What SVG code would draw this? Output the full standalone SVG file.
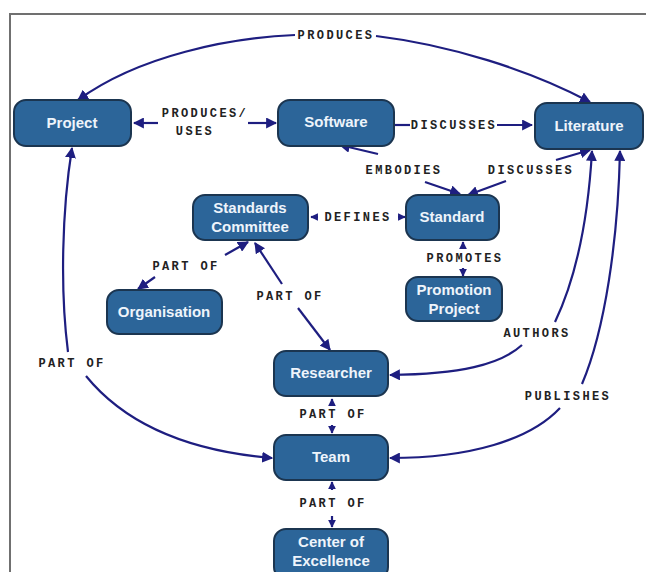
<svg xmlns="http://www.w3.org/2000/svg" width="646" height="572" viewBox="0 0 646 572">
  <defs>
    <style>
      .node rect { fill: #2c6599; stroke: #1b3550; stroke-width: 2; }
      .node text { fill: #eef4fb; font-family: "Liberation Sans", Arial, sans-serif; font-weight: bold; font-size: 15px; text-anchor: middle; }
      .edge { fill: none; stroke: #1e1e80; stroke-width: 2.2; }
      .lbl { fill: #222; font-family: "Liberation Mono", "Courier New", monospace; font-weight: bold; font-size: 12px; letter-spacing: 2.4px; text-anchor: middle; }
    </style>
    <marker id="arr" viewBox="0 0 10 10" refX="9" refY="5" markerWidth="5" markerHeight="5" orient="auto-start-reverse" markerUnits="strokeWidth">
      <path d="M0,0 L10,5 L0,10 z" fill="#1e1e80"/>
    </marker>
    <marker id="sm" viewBox="0 0 10 10" refX="9" refY="5" markerWidth="3.5" markerHeight="3.5" orient="auto-start-reverse" markerUnits="strokeWidth">
      <path d="M0,0 L10,5 L0,10 z" fill="#1e1e80"/>
    </marker>
  </defs>

  <rect x="0" y="0" width="646" height="572" fill="#ffffff"/>
  <!-- frame -->
  <path d="M10,572 L10,14 L646,14" fill="none" stroke="#707070" stroke-width="2"/>

  <!-- connectors -->
  <g id="connectors">
    <!-- PRODUCES: Project - Literature -->
    <path class="edge" d="M295,35 C230,38 140,55 78,100" marker-end="url(#arr)"/>
    <path class="edge" d="M376,36 C450,45 530,70 590,102" marker-end="url(#arr)"/>
    <!-- PRODUCES / USES -->
    <path class="edge" d="M158,123 L134,123" marker-end="url(#arr)"/>
    <path class="edge" d="M248,123 L276,123" marker-end="url(#arr)"/>
    <!-- DISCUSSES: Software -> Literature -->
    <path class="edge" d="M395,125 L410,125"/>
    <path class="edge" d="M497,125 L532,125" marker-end="url(#arr)"/>
    <!-- EMBODIES -->
    <path class="edge" d="M378,154 L340,145" marker-end="url(#arr)"/>
    <path class="edge" d="M425,182 L460,194" marker-end="url(#arr)"/>
    <!-- DISCUSSES: Standard -> Literature -->
    <path class="edge" d="M506,181 L468,195" marker-end="url(#arr)"/>
    <path class="edge" d="M556,160 L590,150" marker-end="url(#arr)"/>
    <!-- DEFINES -->
    <path class="edge" d="M318,217 L311,217" marker-end="url(#sm)"/>
    <path class="edge" d="M398,217 L405,217" marker-end="url(#sm)"/>
    <!-- PROMOTES -->
    <path class="edge" d="M463,248 L463,242" marker-end="url(#sm)"/>
    <path class="edge" d="M463,268 L463,276" marker-end="url(#sm)"/>
    <!-- PART OF: Committee - Organisation -->
    <path class="edge" d="M225,255 L248,242" marker-end="url(#arr)"/>
    <path class="edge" d="M155,277 L138,289" marker-end="url(#arr)"/>
    <!-- PART OF: Committee - Researcher -->
    <path class="edge" d="M282,284 L255,243" marker-end="url(#arr)"/>
    <path class="edge" d="M298,308 L330,350" marker-end="url(#arr)"/>
    <!-- PART OF: Project - Team -->
    <path class="edge" d="M68,352 C60,290 62,210 72,148" marker-end="url(#arr)"/>
    <path class="edge" d="M86,376 C130,430 200,452 272,458" marker-end="url(#arr)"/>
    <!-- AUTHORS -->
    <path class="edge" d="M522,345 C500,365 460,374 390,375" marker-end="url(#arr)"/>
    <path class="edge" d="M555,322 C575,280 588,220 592,151" marker-end="url(#arr)"/>
    <!-- PUBLISHES -->
    <path class="edge" d="M560,408 C530,440 470,458 390,458" marker-end="url(#arr)"/>
    <path class="edge" d="M582,384 C605,330 618,240 620,151" marker-end="url(#arr)"/>
    <!-- PART OF: Researcher - Team -->
    <path class="edge" d="M332,404 L332,399" marker-end="url(#sm)"/>
    <path class="edge" d="M332,425 L332,433" marker-end="url(#sm)"/>
    <!-- PART OF: Team - Center of Excellence -->
    <path class="edge" d="M332,490 L332,482" marker-end="url(#sm)"/>
    <path class="edge" d="M332,516 L332,527" marker-end="url(#sm)"/>
  </g>

  <!-- connector labels -->
  <g id="labels">
    <text class="lbl" x="336" y="39">PRODUCES</text>
    <text class="lbl" x="205" y="117">PRODUCES/</text>
    <text class="lbl" x="195" y="135">USES</text>
    <text class="lbl" x="454" y="129">DISCUSSES</text>
    <text class="lbl" x="404" y="174">EMBODIES</text>
    <text class="lbl" x="531" y="174">DISCUSSES</text>
    <text class="lbl" x="358" y="221">DEFINES</text>
    <text class="lbl" x="465" y="262">PROMOTES</text>
    <text class="lbl" x="186" y="270">PART OF</text>
    <text class="lbl" x="290" y="300">PART OF</text>
    <text class="lbl" x="537" y="337">AUTHORS</text>
    <text class="lbl" x="72" y="367">PART OF</text>
    <text class="lbl" x="568" y="400">PUBLISHES</text>
    <text class="lbl" x="333" y="418">PART OF</text>
    <text class="lbl" x="333" y="507">PART OF</text>
  </g>

  <!-- nodes -->
  <g id="project" class="node">
    <rect x="14" y="100" width="117" height="46" rx="12"/>
    <text x="72" y="128">Project</text>
  </g>
  <g id="software" class="node">
    <rect x="278" y="100" width="116" height="46" rx="12"/>
    <text x="336" y="127">Software</text>
  </g>
  <g id="literature" class="node">
    <rect x="535" y="103" width="108" height="46" rx="12"/>
    <text x="589" y="131">Literature</text>
  </g>
  <g id="standards-committee" class="node">
    <rect x="193" y="195" width="115" height="45" rx="12"/>
    <text x="250" y="213">Standards</text>
    <text x="250" y="232">Committee</text>
  </g>
  <g id="standard" class="node">
    <rect x="406" y="195" width="93" height="45" rx="12"/>
    <text x="452" y="222">Standard</text>
  </g>
  <g id="promotion-project" class="node">
    <rect x="406" y="277" width="96" height="44" rx="12"/>
    <text x="454" y="295">Promotion</text>
    <text x="454" y="314">Project</text>
  </g>
  <g id="organisation" class="node">
    <rect x="107" y="290" width="115" height="44" rx="12"/>
    <text x="164" y="317">Organisation</text>
  </g>
  <g id="researcher" class="node">
    <rect x="274" y="351" width="114" height="45" rx="12"/>
    <text x="331" y="378">Researcher</text>
  </g>
  <g id="team" class="node">
    <rect x="274" y="435" width="114" height="45" rx="12"/>
    <text x="331" y="462">Team</text>
  </g>
  <g id="center-of-excellence" class="node">
    <rect x="274" y="529" width="114" height="50" rx="12"/>
    <text x="331" y="547">Center of</text>
    <text x="331" y="566">Excellence</text>
  </g>
</svg>
